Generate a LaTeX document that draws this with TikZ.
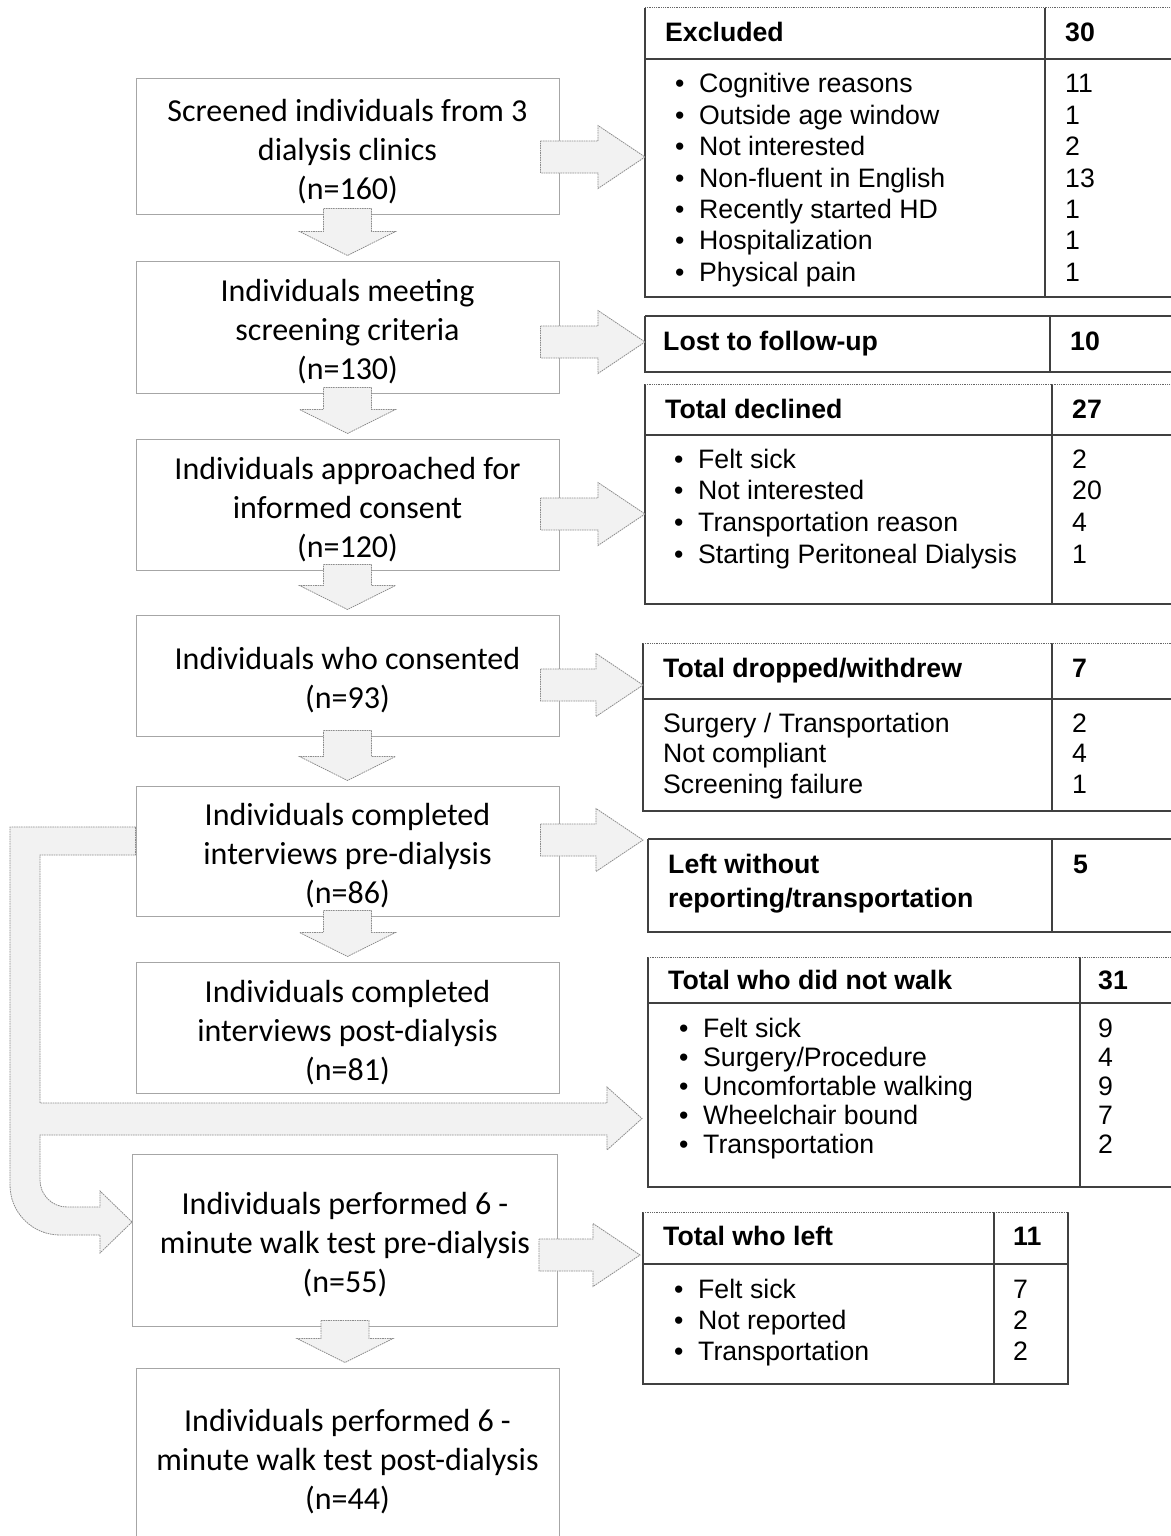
\documentclass[tikz,border=0pt]{standalone}
\usepackage{fontspec}
\setmainfont{Liberation Sans}
\newfontfamily\calfont{Carlito}
\usetikzlibrary{calc}

\definecolor{boxgray}{HTML}{A6A6A6}
\definecolor{blkfill}{HTML}{F2F2F2}
\definecolor{blkline}{HTML}{8C8C8C}
\definecolor{tabline}{HTML}{404040}

\tikzset{
  flowbox/.style={draw=boxgray, line width=1pt, fill=white, minimum width=423pt, inner sep=0pt},
  flowtext/.style={inner sep=0pt, align=center, font=\calfont\fontsize{32}{39}\selectfont},
  blk/.style={fill=blkfill, draw=blkline, line width=0.8pt,
    dash pattern=on 1.6pt off 0.8pt, line join=miter},
  tline/.style={draw=tabline, line width=1.3pt},
  ttop/.style={draw=tabline!80, line width=1pt, dash pattern=on 1pt off 0.8pt},
  tframe/.style={inner sep=0pt, outer sep=0pt, draw=none},
  txt/.style={anchor=base west, inner sep=0pt, font=\fontsize{26.67}{31.4}\selectfont},
  hdr/.style={anchor=base west, inner sep=0pt, font=\fontsize{26.67}{34}\selectfont\bfseries},
}

% block arrow pointing down, from one flow box to the next
\newcommand\downblk[2]{%
  \draw[blk] let \p1=(#1.south), \p2=(#2.north) in
    (\x1-24pt,\y1+6pt) -- (\x1+24pt,\y1+6pt) -- (\x1+24pt,\y2+29pt) -- (\x1+48pt,\y2+29pt)
    -- (\x1,\y2+5pt) -- (\x1-48pt,\y2+29pt) -- (\x1-24pt,\y2+29pt) -- cycle;}

% block arrow pointing right, from a flow box to the tip coordinate of a table
\newcommand\rightblk[2]{%
  \draw[blk] let \p1=(#1.east), \p2=(#2) in
    (\x1-19pt,\y2+16pt) -- (\x2-47pt,\y2+16pt) -- (\x2-47pt,\y2+31.5pt) -- (\x2,\y2)
    -- (\x2-47pt,\y2-31.5pt) -- (\x2-47pt,\y2-16pt) -- (\x1-19pt,\y2-16pt) -- cycle;}

% table frame: name, left, top, right, bottom, divider x, dotted top (1/0)
\newcommand\tabframe[7]{%
  \node[tframe, minimum width={#4-#2}, minimum height={#5-#3}, anchor=north west] (#1) at (#2,#3) {};
  \draw[tline] (#1.north west) -- (#1.south west) -- (#1.south east) -- (#1.north east);
  \draw[tline] (#6,#3) -- (#6,#5);
  \ifnum#7=1 \draw[ttop] (#1.north west) -- (#1.north east);
  \else \draw[tline] (#1.north west) -- (#1.north east);\fi}

% flow box with its centred text: name, centre, width, height, text
\newcommand\flowstep[5]{%
  \node[flowbox, minimum width=#3pt, minimum height=#4pt] (#1) at (#2) {};
  \node[flowtext] (#1t) at ($(#1.center)+(0,5)$) {#5};}

\newcommand\tbullet{\makebox[24pt][l]{•}}

\begin{document}
\begin{tikzpicture}[x=1pt,y=-1pt]
\fill[white] (0,0) rectangle (1170,1536);
\useasboundingbox (0,0) rectangle (1170,1536);

% ---------- main flow ----------
\flowstep{b1}{347.5,146.5}{423}{135}{Screened individuals from 3\\dialysis clinics\\(n=160)}
\flowstep{b2}{347.5,327}{423}{132}{Individuals meeting\\screening criteria\\(n=130)}
\flowstep{b3}{347.5,504.5}{423}{131}{Individuals approached for\\informed consent\\(n=120)}
\flowstep{b4}{347.5,675.5}{423}{121}{Individuals who consented\\(n=93)}
\flowstep{b5}{347.5,851}{423}{130}{Individuals completed\\interviews pre-dialysis\\(n=86)}
\flowstep{b6}{347.5,1027.5}{423}{131}{Individuals completed\\interviews post-dialysis\\(n=81)}
\flowstep{b7}{345,1240}{425}{172}{Individuals performed 6 -\\minute walk test pre-dialysis\\(n=55)}
\flowstep{b8}{347.5,1457}{423}{178}{Individuals performed 6 -\\minute walk test post-dialysis\\(n=44)}

% ---------- side tables ----------
% Excluded
\tabframe{exc}{645}{8}{1175}{297}{1045}{1}
\draw[tline] (645,59) -- (1175,59);
\node[hdr] (excH) at (665,42) {Excluded};
\node[hdr] (excN) at (1065,42) {30};
\node[txt] (excB) at (675,93) {\begin{tabular}[t]{@{}l@{}}
  \tbullet Cognitive reasons\\ \tbullet Outside age window\\ \tbullet Not interested\\
  \tbullet Non-fluent in English\\ \tbullet Recently started HD\\ \tbullet Hospitalization\\
  \tbullet Physical pain\end{tabular}};
\node[txt] (excV) at (1065,93) {\begin{tabular}[t]{@{}l@{}}11\\1\\2\\13\\1\\1\\1\end{tabular}};
\coordinate (excIn) at (645,157);

% Lost to follow-up
\tabframe{lost}{645}{316}{1175}{372}{1050}{0}
\node[hdr] (lostH) at (663,350) {Lost to follow-up};
\node[hdr] (lostN) at (1070,350) {10};
\coordinate (lostIn) at (645,342);

% Total declined
\tabframe{decl}{645}{384}{1175}{604}{1052}{1}
\draw[tline] (645,435) -- (1175,435);
\node[hdr] (declH) at (665,418) {Total declined};
\node[hdr] (declN) at (1072,418) {27};
\node[txt, font=\fontsize{26.67}{31.7}\selectfont] (declB) at (674,468) {\begin{tabular}[t]{@{}l@{}}
  \tbullet Felt sick\\ \tbullet Not interested\\ \tbullet Transportation reason\\
  \tbullet Starting Peritoneal Dialysis\end{tabular}};
\node[txt, font=\fontsize{26.67}{31.7}\selectfont] (declV) at (1072,468) {\begin{tabular}[t]{@{}l@{}}2\\20\\4\\1\end{tabular}};
\coordinate (declIn) at (645,514);

% Total dropped/withdrew
\tabframe{drop}{643}{643}{1175}{811}{1052}{1}
\draw[tline] (643,699) -- (1175,699);
\node[hdr] (dropH) at (663,677) {Total dropped/withdrew};
\node[hdr] (dropN) at (1072,677) {7};
\node[txt, font=\fontsize{26.67}{30.5}\selectfont] (dropB) at (663,732) {\begin{tabular}[t]{@{}l@{}}
  Surgery / Transportation\\ Not compliant\\ Screening failure\end{tabular}};
\node[txt, font=\fontsize{26.67}{30.5}\selectfont] (dropV) at (1072,732) {\begin{tabular}[t]{@{}l@{}}2\\4\\1\end{tabular}};
\coordinate (dropIn) at (643,685);

% Left without reporting
\tabframe{lwr}{648}{839}{1175}{932}{1052}{0}
\node[hdr] (lwrH) at (668,873) {\begin{tabular}[t]{@{}l@{}}Left without\\reporting/transportation\end{tabular}};
\node[hdr] (lwrN) at (1073,873) {5};
\coordinate (lwrIn) at (643,840);

% Total who did not walk
\tabframe{walk}{648}{957}{1175}{1187}{1080}{1}
\draw[tline] (648,1003) -- (1175,1003);
\node[hdr] (walkH) at (668,989.5) {Total who did not walk};
\node[hdr] (walkN) at (1098,989.5) {31};
\node[txt, font=\fontsize{26.67}{29}\selectfont] (walkB) at (679,1037) {\begin{tabular}[t]{@{}l@{}}
  \tbullet Felt sick\\ \tbullet Surgery/Procedure\\ \tbullet Uncomfortable walking\\
  \tbullet Wheelchair bound\\ \tbullet Transportation\end{tabular}};
\node[txt, font=\fontsize{26.67}{29}\selectfont] (walkV) at (1098,1037) {\begin{tabular}[t]{@{}l@{}}9\\4\\9\\7\\2\end{tabular}};
\coordinate (walkIn) at (642,1118.5);

% Total who left
\tabframe{left}{643}{1212}{1068}{1384}{994}{1}
\draw[tline] (643,1264) -- (1068,1264);
\node[hdr] (leftH) at (663,1245) {Total who left};
\node[hdr] (leftN) at (1013,1245) {11};
\node[txt, font=\fontsize{26.67}{31}\selectfont] (leftB) at (674,1298) {\begin{tabular}[t]{@{}l@{}}
  \tbullet Felt sick\\ \tbullet Not reported\\ \tbullet Transportation\end{tabular}};
\node[txt, font=\fontsize{26.67}{31}\selectfont] (leftV) at (1013,1298) {\begin{tabular}[t]{@{}l@{}}7\\2\\2\end{tabular}};
\coordinate (leftIn) at (640,1255);

% ---------- downward block arrows ----------
\downblk{b1}{b2}
\downblk{b2}{b3}
\downblk{b3}{b4}
\downblk{b4}{b5}
\downblk{b5}{b6}
\downblk{b7}{b8}

% ---------- sideways block arrows ----------
\rightblk{b1}{excIn}
\rightblk{b2}{lostIn}
\rightblk{b3}{declIn}
\rightblk{b4}{dropIn}
\rightblk{b5}{lwrIn}
\rightblk{b7}{leftIn}

% ---------- bent arrow from interviews to walk test, with branch ----------
\draw[blk] ($(b5.west)+(0,-24)$) -- (10,827) -- (10,1185)
  .. controls (10,1212.6) and (32.4,1235) .. (60,1235) -- (100,1235) -- (100,1253)
  -- (b7.west |- 0,1222) -- (100,1191) -- (100,1207) -- (67,1207)
  .. controls (52.1,1207) and (40,1194.9) .. (40,1180) -- (40,1135) -- (607,1135)
  -- (607,1150) -- (walkIn) -- (607,1087) -- (607,1103) -- (40,1103) -- (40,855)
  -- ($(b5.west)+(0,4)$) -- cycle;

\end{tikzpicture}
\end{document}
